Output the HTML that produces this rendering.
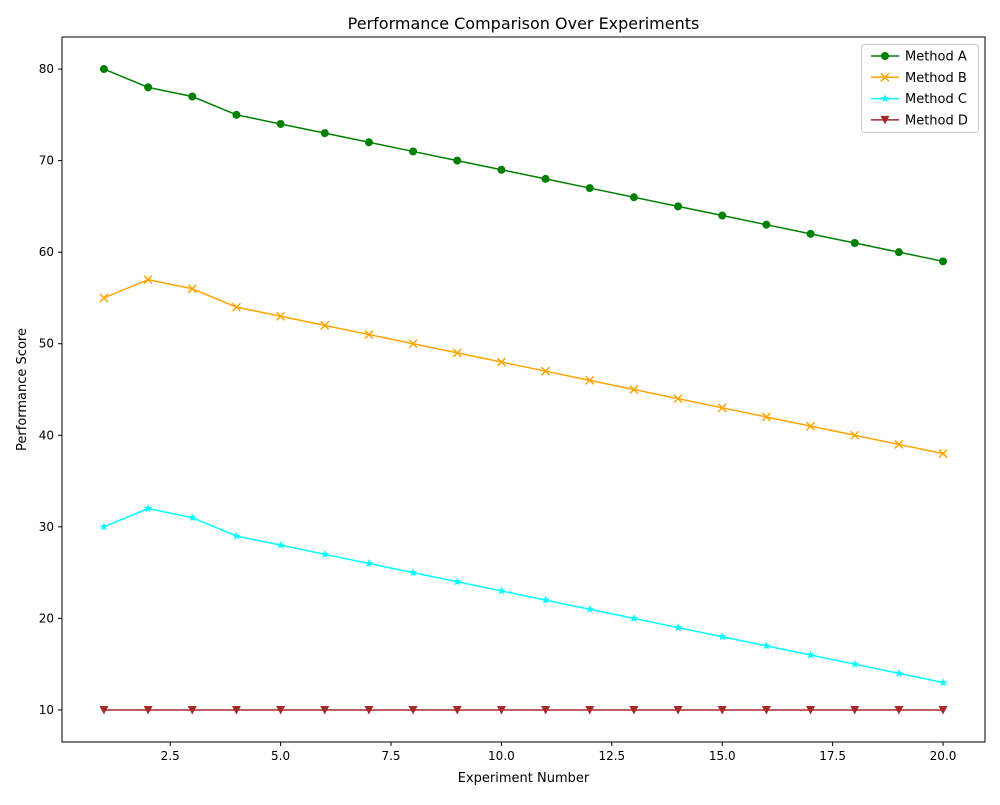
<!DOCTYPE html>
<html><head><meta charset="utf-8"><style>
body{margin:0;background:#fff;font-family:"Liberation Sans","DejaVu Sans",sans-serif;}
svg text{font-family:"DejaVu Sans","Liberation Sans",sans-serif;}
</style></head><body>
<svg id="chart" width="1000" height="800" xmlns="http://www.w3.org/2000/svg"></svg>
<script>
const experiments=[1,2,3,4,5,6,7,8,9,10,11,12,13,14,15,16,17,18,19,20];
const methodA=[80,78,77,75,74,73,72,71,70,69,68,67,66,65,64,63,62,61,60,59];
const methodB=[55,57,56,54,53,52,51,50,49,48,47,46,45,44,43,42,41,40,39,38];
const methodC=[30,32,31,29,28,27,26,25,24,23,22,21,20,19,18,17,16,15,14,13];
const methodD=[10,10,10,10,10,10,10,10,10,10,10,10,10,10,10,10,10,10,10,10];
const xTicks=[2.5,5.0,7.5,10.0,12.5,15.0,17.5,20.0];
const yTicks=[10,20,30,40,50,60,70,80];
const seriesNames=["Method A","Method B","Method C","Method D"];
const seriesColors=["green","orange","cyan","#a52a2a"];
const seriesMarkers=["circle","x","star","tri"];

const NS="http://www.w3.org/2000/svg";
const svg=document.getElementById('chart');
const L=62,R=985,T=37,B=742;
const xMin=0.05,xMax=20.95,yMin=6.5,yMax=83.5;
const sx=v=>L+(v-xMin)/(xMax-xMin)*(R-L);
const sy=v=>B-(v-yMin)/(yMax-yMin)*(B-T);
function el(tag,attrs,parent){const e=document.createElementNS(NS,tag);for(const k in attrs)e.setAttribute(k,attrs[k]);(parent||svg).appendChild(e);return e;}
function txt(s,attrs,parent){const e=el('text',attrs,parent);e.textContent=s;return e;}

const title=txt("Performance Comparison Over Experiments",{x:(L+R)/2,y:29,'text-anchor':'middle','font-size':16});



const xAxis=el('g',{});


xTicks.forEach(t=>{
  el('line',{x1:sx(t),x2:sx(t),y1:B,y2:B+4,stroke:'#000'},xAxis);
  const lb=txt(t.toFixed(1),{x:sx(t),y:B+18,'text-anchor':'middle','font-size':12},xAxis);
  
  
});
const xt=txt("Experiment Number",{x:(L+R)/2,y:782,'text-anchor':'middle','font-size':13});



const yAxis=el('g',{});


yTicks.forEach(t=>{
  el('line',{x1:L-4,x2:L,y1:sy(t),y2:sy(t),stroke:'#000'},yAxis);
  const lb=txt(String(t),{x:L-8,y:sy(t)+4,'text-anchor':'end','font-size':12},yAxis);
  
  
});
const yt=txt("Performance Score",{x:0,y:0,'text-anchor':'middle','font-size':13,transform:`translate(26,${(T+B)/2}) rotate(-90)`});



function marker(type,x,y,c,g){
  if(type==='circle') return el('circle',{cx:x,cy:y,r:4,fill:c},g);
  if(type==='x') return el('path',{d:`M${x-4},${y-4}L${x+4},${y+4}M${x-4},${y+4}L${x+4},${y-4}`,stroke:c,'stroke-width':1.5},g);
  if(type==='star'){let p=[];for(let i=0;i<10;i++){const r=i%2?1.9:4.5,a=-Math.PI/2+i*Math.PI/5;p.push((x+r*Math.cos(a)).toFixed(2)+','+(y+r*Math.sin(a)).toFixed(2));}return el('polygon',{points:p.join(' '),fill:c},g);}
  return el('polygon',{points:`${x-4.5},${y-4} ${x+4.5},${y-4} ${x},${y+4.5}`,fill:c},g);
}
const allSeries=[methodA,methodB,methodC,methodD];
const slugs=['method-a','method-b','method-c','method-d'];
allSeries.forEach((data,si)=>{
  const g=el('g',{});
  
  
  const line=el('polyline',{points:data.map((v,i)=>sx(experiments[i])+','+sy(v)).join(' '),fill:'none',stroke:seriesColors[si],'stroke-width':1.5},g);
  
  
  data.forEach((v,i)=>{
    const m=marker(seriesMarkers[si],sx(experiments[i]),sy(v),seriesColors[si],g);
    
    
  });
});
const frame=el('rect',{x:L,y:T,width:R-L,height:B-T,fill:'none',stroke:'#000','stroke-width':1});



const lg=el('g',{});


el('rect',{x:861.5,y:44.5,width:117,height:88,rx:3,fill:'#fff',stroke:'#ccc'},lg);
seriesNames.forEach((n,i)=>{
  const y=56+i*21.3;
  const e=el('g',{},lg);
  
  
  el('line',{x1:871,x2:899,y1:y,y2:y,stroke:seriesColors[i],'stroke-width':1.5},e);
  marker(seriesMarkers[i],885,y,seriesColors[i],e);
  txt(n,{x:905,y:y+4.5,'font-size':13},e);
});
</script>
</body></html>
